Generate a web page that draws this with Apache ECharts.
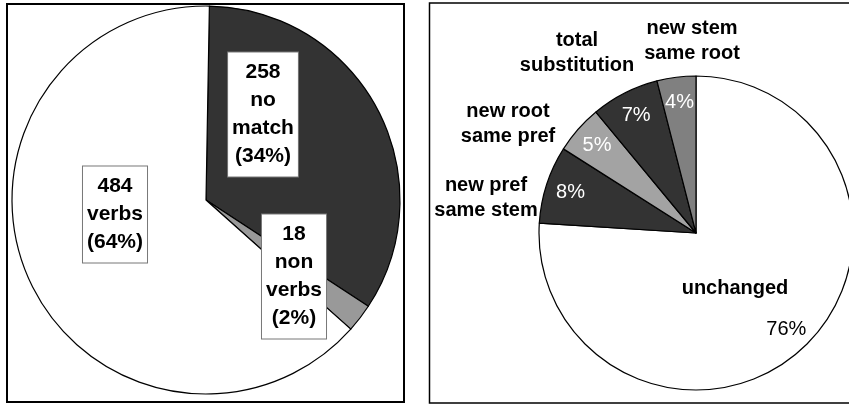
<!DOCTYPE html>
<html>
<head>
<meta charset="utf-8">
<script src="https://cdn.jsdelivr.net/npm/echarts@6/dist/echarts.min.js"></script>
<style>
html,body{margin:0;padding:0;background:#fff;}
#chart{width:849px;height:405px;}
</style>
</head>
<body>
<div id="chart"></div>
<script>
// ---- data ----
const leftNames = ['no match', 'non verbs', 'verbs'];
const leftValues = [258, 18, 484];
const leftColors = ['#333333', '#999999', '#ffffff'];

const rightNames = ['unchanged', 'new pref same stem', 'new root same pref', 'total substitution', 'new stem same root'];
const rightValues = [76, 8, 5, 7, 4];
const rightColors = ['#ffffff', '#333333', '#a3a3a3', '#333333', '#808080'];
const rightPctColors = ['#000000', '#ffffff', '#ffffff', '#ffffff', '#ffffff'];

// ---- layout ----
const FONT = '"Liberation Sans", Arial, Helvetica, sans-serif';
const L = { cx: 206, cy: 200, r: 194, start: 89 };
const R = { cx: 696, cy: 233, r: 157, start: 90 };

function polar(cx, cy, r, deg) {
  const a = deg * Math.PI / 180;
  return [cx + r * Math.sin(a), cy - r * Math.cos(a)];
}
function breakName(n) {
  const w = n.split(' ');
  if (w.length === 4) return w.slice(0, 2).join(' ') + '\n' + w.slice(2).join(' ');
  if (w.length === 2) return w[0] + '\n' + w[1];
  return n;
}

// percentage labels of right pie: placed at 0.84 r on slice mid-angle
const rTotal = rightValues.reduce((a, b) => a + b, 0);
const rPctPos = [];
(function () {
  let acc = 0;
  rightValues.forEach(v => {
    const mid = (acc + v / 2) / rTotal * 360;
    rPctPos.push(polar(R.cx, R.cy, R.r * 0.84, mid));
    acc += v;
  });
})();
// name label positions (right pie), relative to pie center
const rNameOff = [[39, 55], [-210, -35.5], [-188, -109.5], [-119, -180.5], [-4, -192.5]];
// left pie label box positions, relative to pie center
const lBoxOff = [[57, -85.5], [88, 76.5], [-91, 14.5]];

const chart = echarts.init(document.getElementById('chart'), null, { renderer: 'canvas' });

const option = {
  animation: false,
  backgroundColor: '#ffffff',
  graphic: [
    { type: 'rect', z: -1, shape: { x: 7, y: 4, width: 397, height: 398 }, style: { fill: 'none', stroke: '#000', lineWidth: 2 } },
    { type: 'rect', z: -1, shape: { x: 429.5, y: 3, width: 440, height: 400 }, style: { fill: 'none', stroke: '#000', lineWidth: 1.5 } }
  ],
  series: [
    {
      type: 'pie',
      center: [L.cx, L.cy],
      radius: L.r,
      startAngle: L.start,
      clockwise: true,
      avoidLabelOverlap: false,
      percentPrecision: 0,
      silent: true,
      emphasis: { disabled: true },
      itemStyle: { borderColor: '#000', borderWidth: 1.2 },
      label: {
        show: true,
        position: 'inside',
        formatter: p => p.value + '\n' + p.name.replace(/ /g, '\n') + '\n(' + p.percent + '%)',
        fontFamily: FONT,
        fontWeight: 'bold',
        fontSize: 21,
        lineHeight: 28,
        color: '#000',
        align: 'center',
        backgroundColor: '#fff',
        borderColor: '#777',
        borderWidth: 1,
        padding: [6, 4]
      },
      labelLine: { show: false },
      labelLayout: p => {
        const o = lBoxOff[p.dataIndex];
        return { x: L.cx + o[0], y: L.cy + o[1], align: 'center', verticalAlign: 'middle' };
      },
      data: leftNames.map((n, i) => ({ name: n, value: leftValues[i], itemStyle: { color: leftColors[i] } }))
    },
    {
      type: 'pie',
      center: [R.cx, R.cy],
      radius: R.r,
      startAngle: R.start,
      clockwise: true,
      avoidLabelOverlap: false,
      percentPrecision: 0,
      silent: true,
      emphasis: { disabled: true },
      itemStyle: { borderColor: '#000', borderWidth: 1.2 },
      label: {
        show: true,
        position: 'inside',
        formatter: p => p.percent + '%',
        fontFamily: FONT,
        fontSize: 20,
        fontWeight: 'normal'
      },
      labelLine: { show: false },
      labelLayout: p => {
        const pos = rPctPos[p.dataIndex];
        return { x: pos[0], y: pos[1], align: 'center', verticalAlign: 'middle' };
      },
      data: rightNames.map((n, i) => ({
        name: n, value: rightValues[i],
        itemStyle: { color: rightColors[i] },
        label: { color: rightPctColors[i] }
      }))
    },
    {
      type: 'pie',
      center: [R.cx, R.cy],
      radius: R.r,
      startAngle: R.start,
      clockwise: true,
      avoidLabelOverlap: false,
      silent: true,
      emphasis: { disabled: true },
      itemStyle: { color: 'rgba(0,0,0,0)', borderWidth: 0 },
      label: {
        show: true,
        position: 'outside',
        formatter: p => breakName(p.name),
        fontFamily: FONT,
        fontSize: 20,
        fontWeight: 'bold',
        lineHeight: 25,
        color: '#000',
        align: 'center'
      },
      labelLine: { show: false },
      labelLayout: p => {
        const o = rNameOff[p.dataIndex];
        return { x: R.cx + o[0], y: R.cy + o[1], align: 'center', verticalAlign: 'middle' };
      },
      data: rightNames.map((n, i) => ({ name: n, value: rightValues[i] }))
    }
  ]
};
chart.setOption(option);
</script>
</body>
</html>
